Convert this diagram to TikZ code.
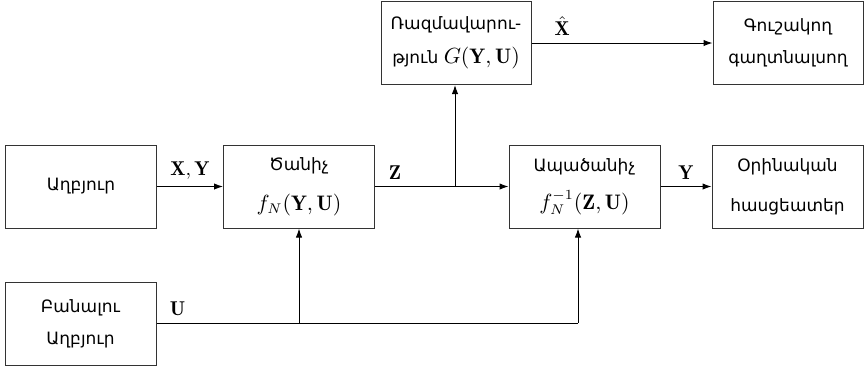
\documentclass[tikz,border=0pt]{standalone}
\usepackage{fontspec}
\usepackage{amsmath}
\newfontfamily\armfont{DejaVu Sans}
\usetikzlibrary{arrows.meta}
\newcommand{\bm}[1]{{\fontsize{10.5}{13}\selectfont$#1$}}
\begin{document}
\begin{tikzpicture}[x=0.5pt,y=-0.5pt,
  box/.style={draw=black!80,line width=0.5pt,minimum width=75.5pt,minimum height=41.5pt,inner sep=0pt,align=center,font=\armfont\fontsize{8.5}{16}\selectfont},
  conn/.style={line width=0.5pt,-{Latex[length=4.5pt,width=3.2pt]}},
  lbl/.style={font=\fontsize{10}{12}\selectfont}]
\useasboundingbox (0,0) rectangle (865,366);
\node[box] (src) at (81,186.5) {Աղբյուր};
\node[box] (enc) at (299,186.5) {Ծանիչ\\[4pt]\bm{f_N(\mathbf{Y},\mathbf{U})}};
\node[box,minimum width=75pt] (str) at (456,43) {Ռազմավարու-\\[1pt]թյուն \bm{G(\mathbf{Y},\mathbf{U})}};
\node[box,minimum width=75pt] (eve) at (788,43) {Գուշակող\\գաղտնալսող};
\node[box] (dec) at (584.5,186.5) {Ապածանիչ\\[3pt]\bm{f_N^{-1}(\mathbf{Z},\mathbf{U})}};
\node[box] (rcv) at (787.5,186.5) {Օրինական\\[4pt]հասցեատեր};
\node[box] (key) at (80.5,323.5) {Բանալու\\Աղբյուր};
\coordinate (br) at (455,186.5);
\coordinate (ku) at (299,323);
\coordinate (kd) at (578,323);
\draw[conn] (src) -- node[lbl,above] {$\mathbf{X},\mathbf{Y}$} (enc);
\draw[conn] (enc) -- node[lbl,above,pos=0.15] {$\mathbf{Z}$} (dec);
\draw[conn] (br) -- (str.south -| br);
\draw[conn] (str) -- node[lbl,above,pos=0.17] {$\hat{\mathbf{X}}$} (eve);
\draw[conn] (dec) -- node[lbl,above] {$\mathbf{Y}$} (rcv);
\draw[line width=0.5pt] (key.east |- ku) -- node[lbl,above,pos=0.05] {$\mathbf{U}$} (kd);
\draw[conn] (ku) -- (enc.south);
\draw[conn] (kd) -- (dec.south -| kd);
\end{tikzpicture}
\end{document}
